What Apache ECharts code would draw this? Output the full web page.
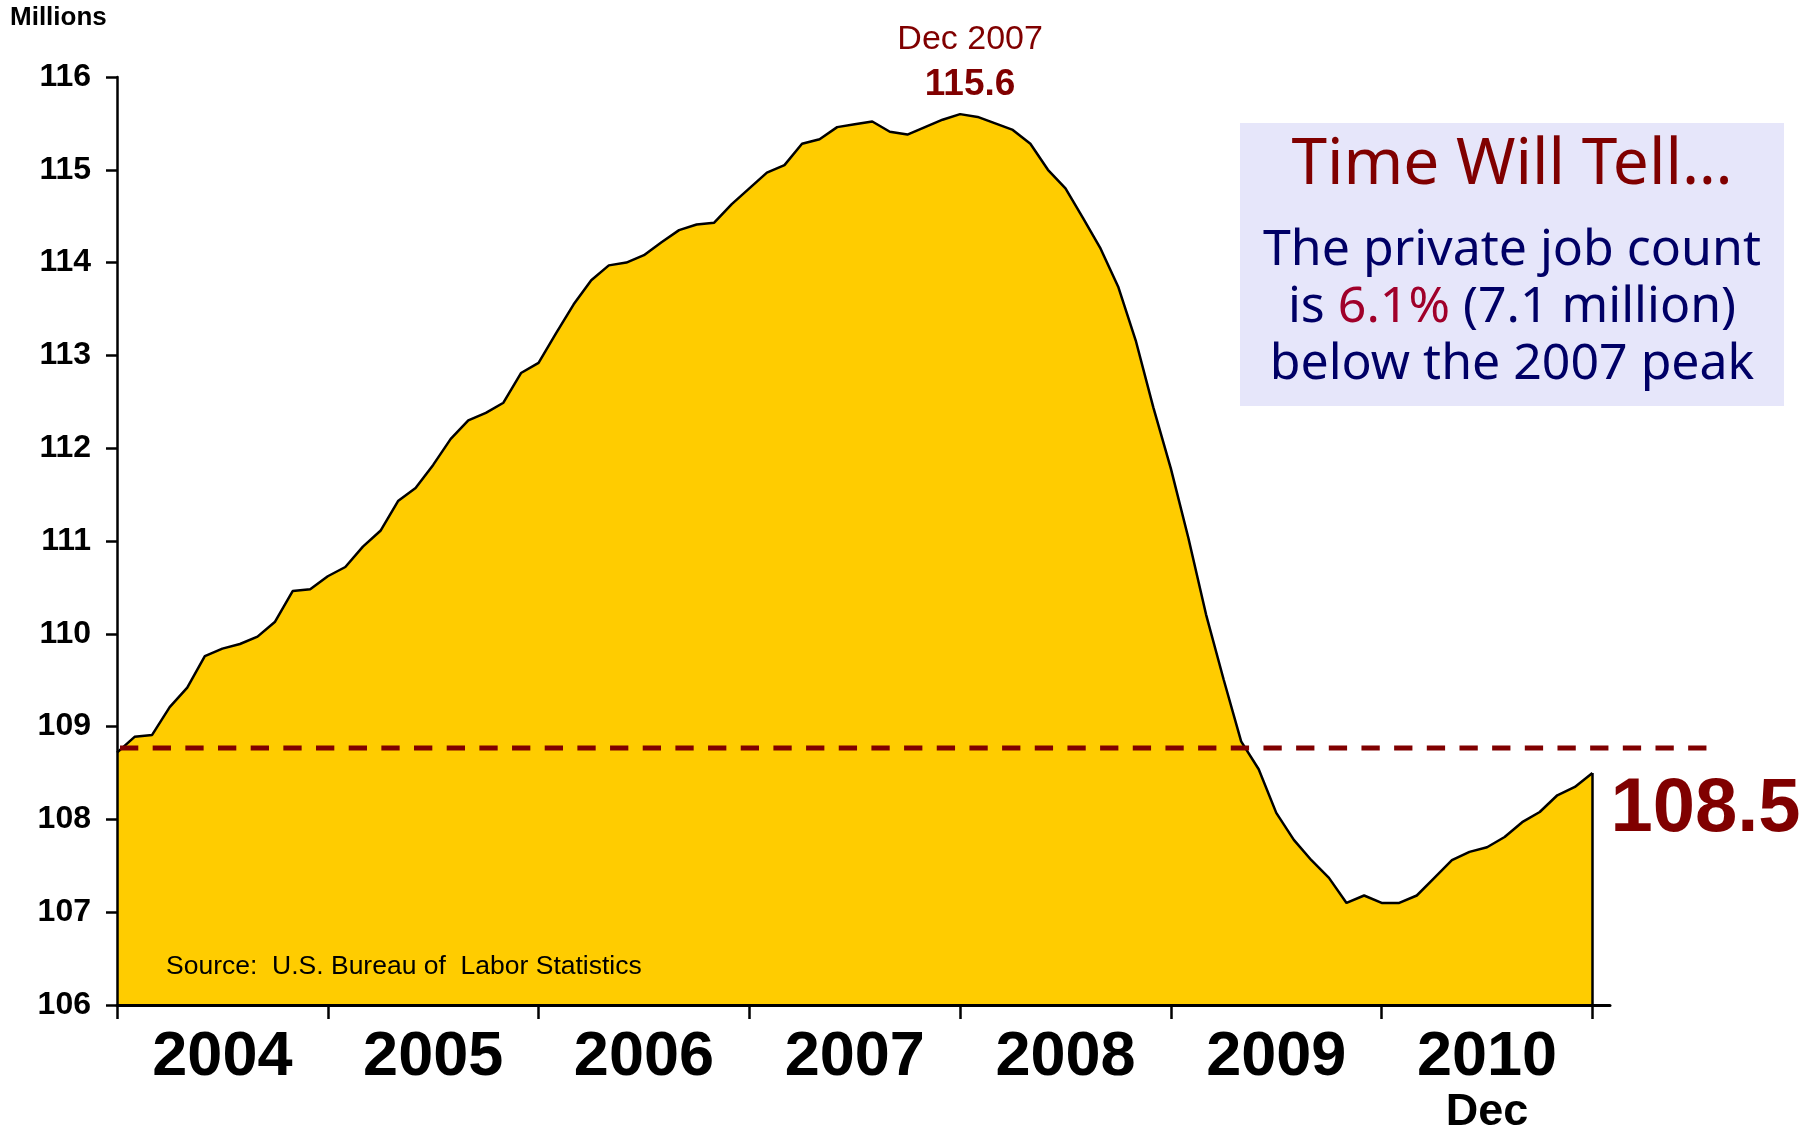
<!DOCTYPE html>
<html>
<head>
<meta charset="utf-8">
<script src="https://cdn.jsdelivr.net/npm/echarts@6/dist/echarts.min.js"></script>
<style>
  html, body { margin: 0; padding: 0; background: #ffffff; }
  #chart { width: 1808px; height: 1127px; }
</style>
</head>
<body>
<div id="chart"></div>
<script>
// Year bands along the bottom axis
const years = ['2004', '2005', '2006', '2007', '2008', '2009', '2010'];
const lastMonthNote = 'Dec';
const monthNames = ['Jan', 'Feb', 'Mar', 'Apr', 'May', 'Jun', 'Jul', 'Aug', 'Sep', 'Oct', 'Nov', 'Dec'];

// Monthly observations: Dec 2003 through Dec 2010
const months = ['Dec 2003'];
years.forEach(y => monthNames.forEach(m => months.push(m + ' ' + y)));

// Private payroll employment, millions
const privateJobs = [
  108.72,
  108.89, 108.91, 109.21, 109.42, 109.76, 109.84, 109.89, 109.97, 110.13, 110.46, 110.48, 110.62,
  110.72, 110.94, 111.11, 111.43, 111.57, 111.82, 112.10, 112.30, 112.38, 112.49, 112.81, 112.92,
  113.24, 113.55, 113.81, 113.97, 114.00, 114.08, 114.22, 114.35, 114.41, 114.43, 114.63, 114.80,
  114.97, 115.05, 115.28, 115.33, 115.46, 115.49, 115.52, 115.41, 115.38, 115.46, 115.54, 115.6,
  115.57, 115.50, 115.43, 115.28, 115.00, 114.80, 114.48, 114.15, 113.74, 113.16, 112.44, 111.78,
  111.03, 110.21, 109.51, 108.84, 108.54, 108.07, 107.78, 107.56, 107.37, 107.10, 107.18, 107.10,
  107.10, 107.18, 107.37, 107.56, 107.65, 107.70, 107.81, 107.97, 108.08, 108.26, 108.35, 108.5
];

// Level of the horizontal dashed reference line
const referenceLevel = 108.77;
const peakMonth = 'Dec 2007';

// Value axis range (millions)
const yMin = 106, yMax = 116, yStep = 1;

const arial = "'Liberation Sans', Arial, Helvetica, sans-serif";
const noto = "'Noto Sans', 'DejaVu Sans', sans-serif";

const lastIdx = privateJobs.length - 1;
const peakIdx = months.indexOf(peakMonth);
const peakValue = privateJobs[peakIdx];
const yearEnds = ['2003'].concat(years).map(y => months.indexOf('Dec ' + y));
const yearMids = years.map((y, i) => yearEnds[i] + 6);

// The dashed reference line runs a little past the last month
const refLineEnd = 90.5;

const chart = echarts.init(document.getElementById('chart'), null, { renderer: 'canvas' });

const option = {
  animation: false,
  backgroundColor: '#ffffff',
  grid: [
    { left: 117, right: 198, top: 77, bottom: 122, containLabel: false, outerBoundsMode: 'none' },
    { left: 117, right: 101.4, top: 77, bottom: 122, containLabel: false, outerBoundsMode: 'none' }
  ],
  xAxis: [
    {
      type: 'value', gridIndex: 0, min: 0, max: 85, z: 5,
      axisLine: { show: true, onZero: false, lineStyle: { color: '#000', width: 3 } },
      axisTick: { show: true, customValues: yearEnds, length: 14, lineStyle: { color: '#000', width: 2.5 } },
      axisLabel: {
        show: true,
        customValues: yearMids,
        margin: 20,
        formatter: function (v) {
          const i = Math.round((v - yearMids[0]) / 12);
          if (i === years.length - 1) return '{y|' + years[i] + '}\n{d|' + lastMonthNote + '}';
          return '{y|' + years[i] + '}';
        },
        rich: {
          y: { fontFamily: arial, fontWeight: 'bold', fontSize: 63, lineHeight: 66, color: '#000' },
          d: { fontFamily: arial, fontWeight: 'bold', fontSize: 45, lineHeight: 44, color: '#000' }
        }
      },
      splitLine: { show: false }
    },
    { type: 'value', gridIndex: 1, min: 0, max: refLineEnd, show: false }
  ],
  yAxis: [
    {
      type: 'value', gridIndex: 0, min: yMin, max: yMax, interval: yStep, z: 5,
      axisLine: { show: true, lineStyle: { color: '#000', width: 2.5 } },
      axisTick: { show: true, length: 11, lineStyle: { color: '#000', width: 2.5 } },
      axisLabel: { margin: 26, fontFamily: arial, fontWeight: 'bold', fontSize: 32, color: '#000' },
      splitLine: { show: false }
    },
    { type: 'value', gridIndex: 1, min: yMin, max: yMax, show: false }
  ],
  series: [
    {
      name: 'Private employment',
      type: 'line',
      xAxisIndex: 0, yAxisIndex: 0,
      data: privateJobs.map((v, i) => [i, v]),
      symbol: 'none',
      lineStyle: { color: '#000', width: 2.5 },
      areaStyle: { color: '#FFCC00', opacity: 1, origin: 'start' },
      z: 2,
      endLabel: {
        show: true,
        distance: 18,
        offset: [0, 37],
        formatter: p => p.value[1].toFixed(1),
        color: '#800000',
        fontFamily: arial,
        fontWeight: 'bold',
        fontSize: 76
      },
      markLine: {
        silent: true,
        symbol: ['none', 'none'],
        label: { show: false },
        lineStyle: { color: '#000', width: 2.5, type: 'solid' },
        data: [[{ coord: [lastIdx, yMin] }, { coord: [lastIdx, privateJobs[lastIdx]] }]]
      },
      markPoint: {
        silent: true,
        symbol: 'circle',
        symbolSize: 1,
        itemStyle: { color: 'rgba(0,0,0,0)' },
        label: {
          show: true,
          position: 'top',
          distance: 6,
          offset: [10, 0],
          formatter: '{a|' + peakMonth + '}\n{b|' + peakValue.toFixed(1) + '}',
          rich: {
            a: { fontFamily: arial, fontSize: 34, lineHeight: 45, color: '#800000', align: 'center' },
            b: { fontFamily: arial, fontSize: 37, fontWeight: 'bold', lineHeight: 45, color: '#800000', align: 'center' }
          }
        },
        data: [{ coord: [peakIdx, peakValue], value: peakValue }]
      }
    },
    {
      name: 'Reference level',
      type: 'line',
      xAxisIndex: 1, yAxisIndex: 1,
      data: [[0, referenceLevel], [refLineEnd, referenceLevel]],
      symbol: 'none',
      silent: true,
      z: 3,
      lineStyle: { color: '#800000', width: 5, type: [18.3, 14.37], dashOffset: -3 }
    }
  ],
  graphic: [
    {
      type: 'text', x: 10, y: 18, z: 10,
      style: { text: 'Millions', font: "bold 26px " + arial, fill: '#000', textVerticalAlign: 'middle', verticalAlign: 'middle' }
    },
    {
      type: 'text', x: 166, y: 967, z: 10,
      style: { text: 'Source:  U.S. Bureau of  Labor Statistics', font: "26.5px " + arial, fill: '#000', textVerticalAlign: 'middle', verticalAlign: 'middle' }
    },
    {
      type: 'rect', z: 10,
      shape: { x: 1240, y: 123, width: 544, height: 283 },
      style: { fill: '#E6E6FA' }
    },
    {
      type: 'text', x: 1512, y: 166, z: 11,
      style: {
        text: 'Time Will Tell\u2026',
        font: "64px " + noto,
        fill: '#800000',
        textAlign: 'center', align: 'center',
        textVerticalAlign: 'middle', verticalAlign: 'middle'
      }
    },
    {
      type: 'text', x: 1512, y: 308, z: 11,
      style: {
        text: '{b|The private job count}\n{b|is }{r|6.1%}{b| (7.1 million)}\n{b|below the 2007 peak}',
        textAlign: 'center', align: 'center',
        textVerticalAlign: 'middle', verticalAlign: 'middle',
        rich: {
          b: { fontFamily: noto, fontSize: 50, lineHeight: 57, fill: '#000066', textFill: '#000066', color: '#000066' },
          r: { fontFamily: noto, fontSize: 50, lineHeight: 57, fill: '#A0002A', textFill: '#A0002A', color: '#A0002A' }
        }
      }
    }
  ]
};

chart.setOption(option);
</script>
</body>
</html>
